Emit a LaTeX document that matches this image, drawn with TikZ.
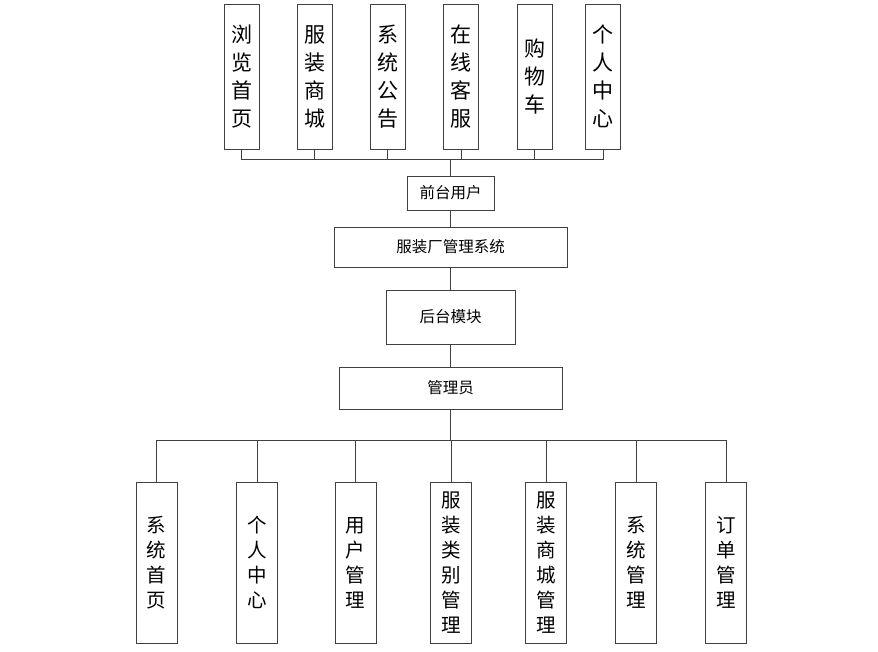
\documentclass[tikz,border=0pt]{standalone}
\usepackage{fontspec}
\setmainfont{Noto Sans CJK SC}
\usetikzlibrary{positioning}
\definecolor{LineGray}{RGB}{64, 64, 64}

\tikzset{
  box/.style={draw=LineGray, line width=0.9pt, inner sep=0pt, align=center},
  topbox/.style={box, minimum width=35pt, minimum height=145pt, font=\fontsize{21}{28}\selectfont},
  midbox/.style={box, font=\fontsize{15.5}{18}\selectfont},
  botbox/.style={box, minimum width=41pt, minimum height=161pt, font=\fontsize{19.5}{25}\selectfont},
  link/.style={draw=LineGray, line width=0.9pt}
}

\begin{document}
\begin{tikzpicture}[x=1pt, y=-1pt]
    \useasboundingbox (0,0) rectangle (878,652);

    % Front-end modules
    \node[topbox] (browse) at (241.5, 76.5) {浏\\览\\首\\页};
    \node[topbox] (mall)   at (314.5, 76.5) {服\\装\\商\\城};
    \node[topbox] (notice) at (387.5, 76.5) {系\\统\\公\\告};
    \node[topbox] (service) at (461, 76.5) {在\\线\\客\\服};
    \node[topbox] (cart)   at (534.5, 76.5) {购\\物\\车};
    \node[topbox] (mine)   at (603, 76.5) {个\\人\\中\\心};

    % Main chain
    \node[midbox, minimum width=87pt, minimum height=34pt] (front) at (450.5, 193) {前台用户};
    \node[midbox, minimum width=233pt, minimum height=40pt] (system) at (450.5, 247) {服装厂管理系统};
    \node[midbox, minimum width=129pt, minimum height=54pt] (back) at (450.5, 317) {后台模块};
    \node[midbox, minimum width=223pt, minimum height=42pt] (admin) at (450.5, 388) {管理员};

    % Back-end modules
    \node[botbox] (bhome)  at (156.5, 562.5) {系\\统\\首\\页};
    \node[botbox] (bmine)  at (257, 562.5) {个\\人\\中\\心};
    \node[botbox] (buser)  at (355.5, 562.5) {用\\户\\管\\理};
    \node[botbox] (bcat)   at (451, 562.5) {服\\装\\类\\别\\管\\理};
    \node[botbox] (bmall)  at (546, 562.5) {服\\装\\商\\城\\管\\理};
    \node[botbox] (bsys)   at (636, 562.5) {系\\统\\管\\理};
    \node[botbox] (border) at (726, 562.5) {订\\单\\管\\理};

    % Connectors
    \coordinate (topbus) at (450.5, 159);
    \coordinate (botbus) at (450.5, 440);
    \foreach \n in {browse, mall, notice, service, cart, mine}
      \draw[link] (\n.south) |- (topbus);
    \draw[link] (topbus) -- (front.north);
    \draw[link] (front.south) -- (system.north);
    \draw[link] (system.south) -- (back.north);
    \draw[link] (back.south) -- (admin.north);
    \draw[link] (admin.south) -- (botbus);
    \foreach \n in {bhome, bmine, buser, bcat, bmall, bsys, border}
      \draw[link] (botbus) -| (\n.north);
  \end{tikzpicture}
\end{document}
